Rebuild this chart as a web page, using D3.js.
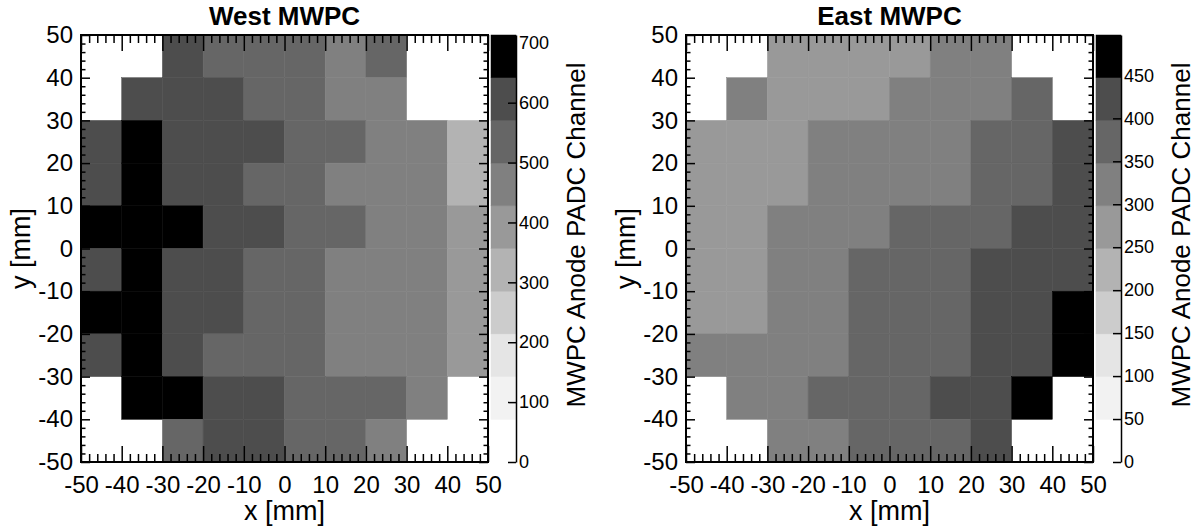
<!DOCTYPE html>
<html>
<head>
<meta charset="utf-8">
<script src="https://cdn.jsdelivr.net/npm/d3@7"></script>
<style>
  body { margin: 0; background: #fff; }
  svg { display: block; }
  text { font-family: "Liberation Sans", Arial, Helvetica, sans-serif; fill: #000; }
</style>
</head>
<body>
<svg id="chart" width="1200" height="529"></svg>
<script>
// ---- data ----
const xBinLow = [-50, -40, -30, -20, -10, 0, 10, 20, 30, 40];
const yBinLow = [40, 30, 20, 10, 0, -10, -20, -30, -40, -50]; // rows top -> bottom

// West MWPC anode PADC channel (rows top->bottom, columns left->right); null = empty bin
const westValues = [
  [null, null, 590, 540, 525, 515, 470, 530, null, null],
  [null, 600, 610, 585, 545, 520, 480, 455, null, null],
  [620, 690, 630, 605, 575, 545, 520, 490, 470, 330],
  [615, 705, 625, 600, 560, 530, 495, 465, 450, 340],
  [665, 713, 675, 595, 580, 540, 510, 480, 460, 400],
  [625, 700, 620, 590, 550, 525, 495, 470, 445, 395],
  [660, 695, 615, 580, 545, 520, 490, 460, 440, 390],
  [610, 690, 600, 560, 540, 510, 485, 455, 440, 385],
  [null, 680, 670, 610, 590, 545, 520, 505, 470, null],
  [null, null, 530, 600, 585, 540, 515, 480, null, null]
];

// East MWPC anode PADC channel
const eastValues = [
  [null, null, 275, 285, 290, 280, 310, 320, null, null],
  [null, 305, 280, 290, 290, 315, 325, 335, 365, null],
  [260, 270, 285, 305, 310, 320, 330, 355, 375, 410],
  [255, 265, 290, 305, 315, 325, 340, 360, 380, 420],
  [260, 275, 305, 320, 330, 355, 365, 385, 405, 430],
  [265, 280, 310, 325, 352, 360, 375, 402, 415, 440],
  [270, 285, 315, 330, 355, 370, 385, 405, 425, 475],
  [305, 310, 320, 335, 360, 375, 390, 410, 435, 497],
  [null, 315, 325, 352, 365, 380, 402, 420, 460, null],
  [null, null, 320, 335, 355, 370, 390, 405, null, null]
];

const axisMajorTicks = [-50, -40, -30, -20, -10, 0, 10, 20, 30, 40, 50];
const axisMinorTicks = [-48,-46,-44,-42,-38,-36,-34,-32,-28,-26,-24,-22,-18,-16,-14,-12,-8,-6,-4,-2,
                        2,4,6,8,12,14,16,18,22,24,26,28,32,34,36,38,42,44,46,48];
const westColorTicks = [0, 100, 200, 300, 400, 500, 600, 700];
const eastColorTicks = [0, 50, 100, 150, 200, 250, 300, 350, 400, 450];
const grayPalette = ["#ffffff", "#f2f2f2", "#e5e5e5", "#cccccc", "#b3b3b3",
                     "#999999", "#808080", "#666666", "#4d4d4d", "#000000"];

const panels = [
  { title: "West MWPC", values: westValues, cbTicks: westColorTicks, dx: 0 },
  { title: "East MWPC", values: eastValues, cbTicks: eastColorTicks, dx: 605 }
];

// ---- layout ----
const L = { left: 81, right: 488, top: 35, bottom: 462, cbLeft: 491, cbRight: 516 };
const svg = d3.select("#chart");
const FONT = '"Liberation Sans", Arial, Helvetica, sans-serif';

function styleAxis(sel, fontSize) {
  sel.attr("font-family", FONT);
  sel.select(".domain").remove();
  sel.selectAll(".tick line").attr("stroke", "#000").attr("stroke-width", 1.5);
  sel.selectAll(".tick text").attr("font-size", fontSize || 24);
}

panels.forEach(p => {
  const g = svg.append("g").attr("transform", `translate(${p.dx},0)`);
  const x = d3.scaleLinear().domain([-50, 50]).range([L.left, L.right]);
  const y = d3.scaleLinear().domain([-50, 50]).range([L.bottom, L.top]);
  const zmax = d3.max(p.values.flat().filter(v => v != null));
  const color = d3.scaleQuantize().domain([0, zmax]).range(grayPalette);

  // cells
  const cells = [];
  p.values.forEach((row, r) => row.forEach((v, c) => {
    if (v != null) cells.push({ x0: xBinLow[c], y0: yBinLow[r], v });
  }));
  g.append("g").selectAll("rect").data(cells).join("rect")
    .attr("x", d => x(d.x0))
    .attr("y", d => y(d.y0 + 10))
    .attr("width", d => x(d.x0 + 10) - x(d.x0))
    .attr("height", d => y(d.y0) - y(d.y0 + 10))
    .attr("fill", d => color(d.v))
    .attr("stroke", d => color(d.v))
    .attr("stroke-width", 0.5);

  const fmt = d => String(d);
  const blank = () => "";

  // frame
  g.append("rect")
    .attr("x", L.left).attr("y", L.top)
    .attr("width", L.right - L.left).attr("height", L.bottom - L.top)
    .attr("fill", "none").attr("stroke", "#000").attr("stroke-width", 2);

  // bottom
  g.append("g").attr("transform", `translate(0,${L.bottom})`)
    .call(d3.axisBottom(x).tickValues(axisMajorTicks).tickSizeInner(-16).tickSizeOuter(0).tickPadding(14).tickFormat(fmt))
    .call(styleAxis);
  g.append("g").attr("transform", `translate(0,${L.bottom})`)
    .call(d3.axisBottom(x).tickValues(axisMinorTicks).tickSizeInner(-8).tickSizeOuter(0).tickFormat(blank))
    .call(styleAxis);
  // top
  g.append("g").attr("transform", `translate(0,${L.top})`)
    .call(d3.axisTop(x).tickValues(axisMajorTicks).tickSizeInner(-16).tickSizeOuter(0).tickFormat(blank))
    .call(styleAxis);
  g.append("g").attr("transform", `translate(0,${L.top})`)
    .call(d3.axisTop(x).tickValues(axisMinorTicks).tickSizeInner(-8).tickSizeOuter(0).tickFormat(blank))
    .call(styleAxis);
  // left
  g.append("g").attr("transform", `translate(${L.left},0)`)
    .call(d3.axisLeft(y).tickValues(axisMajorTicks).tickSizeInner(-9).tickSizeOuter(0).tickPadding(8).tickFormat(fmt))
    .call(styleAxis);
  g.append("g").attr("transform", `translate(${L.left},0)`)
    .call(d3.axisLeft(y).tickValues(axisMinorTicks).tickSizeInner(-4.5).tickSizeOuter(0).tickFormat(blank))
    .call(styleAxis);
  // right
  g.append("g").attr("transform", `translate(${L.right},0)`)
    .call(d3.axisRight(y).tickValues(axisMajorTicks).tickSizeInner(-9).tickSizeOuter(0).tickFormat(blank))
    .call(styleAxis);
  g.append("g").attr("transform", `translate(${L.right},0)`)
    .call(d3.axisRight(y).tickValues(axisMinorTicks).tickSizeInner(-4.5).tickSizeOuter(0).tickFormat(blank))
    .call(styleAxis);

  // colour bar
  const z = d3.scaleLinear().domain([0, zmax]).range([L.bottom, L.top]);
  const edges = [0, ...color.thresholds(), zmax];
  const bands = grayPalette.map((c, i) => ({ lo: edges[i], hi: edges[i + 1], c }));
  g.append("g").selectAll("rect").data(bands).join("rect")
    .attr("x", L.cbLeft)
    .attr("width", L.cbRight - L.cbLeft)
    .attr("y", d => z(d.hi))
    .attr("height", d => z(d.lo) - z(d.hi))
    .attr("fill", d => d.c)
    .attr("stroke", d => d.c)
    .attr("stroke-width", 0.5);
  const cbAxis = g.append("g").attr("transform", `translate(${L.cbRight},0)`)
    .call(d3.axisRight(z).tickValues(p.cbTicks).tickSizeInner(-8).tickSizeOuter(0).tickPadding(3).tickFormat(fmt));
  cbAxis.attr("font-family", FONT);
  cbAxis.select(".domain").attr("stroke", "#000").attr("stroke-width", 1.5);
  cbAxis.selectAll(".tick line").attr("stroke", "#000").attr("stroke-width", 1.5);
  cbAxis.selectAll(".tick text").attr("font-size", 18);

  // titles
  g.append("text").attr("x", (L.left + L.right) / 2).attr("y", 25)
    .attr("text-anchor", "middle").attr("font-size", 26).attr("font-weight", "bold")
    .text(p.title);
  g.append("text").attr("x", (L.left + L.right) / 2).attr("y", 520)
    .attr("text-anchor", "middle").attr("font-size", 27).text("x [mm]");
  g.append("text").attr("transform", `translate(30,${(L.top + L.bottom) / 2}) rotate(-90)`)
    .attr("text-anchor", "middle").attr("font-size", 27).text("y [mm]");
  g.append("text").attr("transform", `translate(585,235) rotate(-90)`)
    .attr("text-anchor", "middle").attr("font-size", 26).text("MWPC Anode PADC Channel");
});
</script>
</body>
</html>
